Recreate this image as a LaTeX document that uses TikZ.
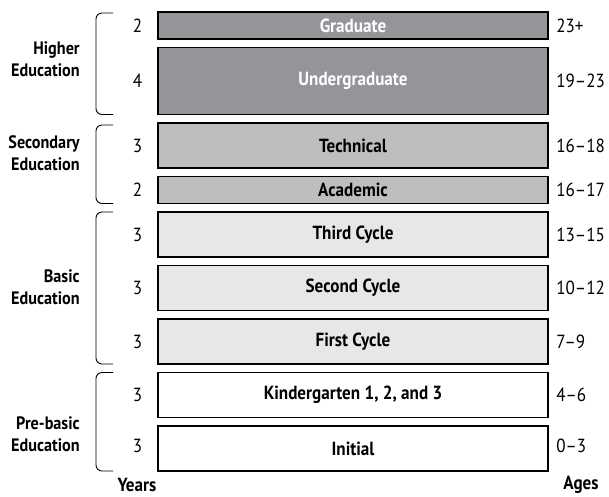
\documentclass[tikz,border=0pt]{standalone}
\usepackage{fontspec}
\setmainfont{PT Sans}[FakeStretch=0.9]
\usetikzlibrary{positioning}

\definecolor{higher}{HTML}{939598}
\definecolor{secondary}{HTML}{BCBEC0}
\definecolor{basic}{HTML}{E6E7E8}

\tikzset{
  level/.style={draw, line width=1.3pt, rectangle, minimum width=390pt, inner sep=0pt, font=\fontsize{19}{22}\selectfont\bfseries},
  years/.style={font=\fontsize{19}{22}\selectfont},
  ages/.style={font=\fontsize{19}{22}\selectfont, anchor=west},
  group/.style={font=\fontsize{18}{22}\selectfont\bfseries, align=right, anchor=east},
  brace/.style={line width=0.9pt, rounded corners=6pt},
}

\begin{document}
\begin{tikzpicture}[x=1pt, y=-1pt, node distance=8.5pt, outer sep=0pt]
    \useasboundingbox (0,0) rectangle (609,496);

    % stages, top to bottom
    \node [level, fill=higher, text=white, minimum height=27pt, anchor=north west] (grad) at (158,12) {Graduate};
    \node [level, fill=higher, text=white, minimum height=67pt, below=of grad] (undergrad) {Undergraduate};
    \node [level, fill=secondary, minimum height=45pt, below=of undergrad] (tech) {Technical};
    \node [level, fill=secondary, minimum height=27pt, below=of tech] (acad) {Academic};
    \node [level, fill=basic, minimum height=45pt, below=of acad] (third) {Third Cycle};
    \node [level, fill=basic, minimum height=45pt, below=of third] (second) {Second Cycle};
    \node [level, fill=basic, minimum height=45pt, below=of second] (first) {First Cycle};
    \node [level, fill=white, minimum height=45pt, below=of first] (kinder) {Kindergarten 1, 2, and 3};
    \node [level, fill=white, minimum height=45pt, below=of kinder] (initial) {Initial};

    % years
    \node [years] (ygrad) at ([xshift=-20.5pt]grad.west) {2};
    \node [years] (yundergrad) at ([xshift=-20.5pt]undergrad.west) {4};
    \node [years] (ytech) at ([xshift=-20.5pt]tech.west) {3};
    \node [years] (yacad) at ([xshift=-20.5pt]acad.west) {2};
    \node [years] (ythird) at ([xshift=-20.5pt]third.west) {3};
    \node [years] (ysecond) at ([xshift=-20.5pt]second.west) {3};
    \node [years] (yfirst) at ([xshift=-20.5pt]first.west) {3};
    \node [years] (ykinder) at ([xshift=-20.5pt]kinder.west) {3};
    \node [years] (yinitial) at ([xshift=-20.5pt,yshift=3pt]initial.west) {3};

    % ages
    \node [ages] (agrad) at ([xshift=5pt]grad.east) {23+};
    \node [ages] (aundergrad) at ([xshift=5pt]undergrad.east) {19--23};
    \node [ages] (atech) at ([xshift=5pt]tech.east) {16--18};
    \node [ages] (aacad) at ([xshift=5pt]acad.east) {16--17};
    \node [ages] (athird) at ([xshift=5pt]third.east) {13--15};
    \node [ages] (asecond) at ([xshift=5pt]second.east) {10--12};
    \node [ages] (afirst) at ([xshift=5pt]first.east) {7--9};
    \node [ages] (akinder) at ([xshift=5pt]kinder.east) {4--6};
    \node [ages] (ainitial) at ([xshift=5pt,yshift=3pt]initial.east) {0--3};

    % braces
    \draw [brace] ([xshift=-45pt,yshift=-1pt]grad.north west) -- ++(-17,0) |- ([xshift=-45pt]undergrad.south west);
    \draw [brace] ([xshift=-45pt,yshift=-2pt]tech.north west) -- ++(-17,0) |- ([xshift=-45pt]acad.south west);
    \draw [brace] ([xshift=-45pt]third.north west) -- ++(-17,0) |- ([xshift=-45pt]first.south west);
    \draw [brace] ([xshift=-45pt]kinder.north west) -- ++(-17,0) |- ([xshift=-45pt]initial.south west);

    % groups
    \node [group] (higher) at (83,59) {Higher\\Education};
    \node [group] (secondary) at (83,153) {Secondary\\Education};
    \node [group] (basicgrp) at (83,287) {Basic\\Education};
    \node [group] (prebasic) at (83,434) {Pre-basic\\Education};

    % axis labels
    \node [font=\fontsize{19}{22}\selectfont\bfseries] (yearslbl) at (137,484.5) {Years};
    \node [font=\fontsize{19}{22}\selectfont\bfseries] (ageslbl) at (581,484.5) {Ages};
\end{tikzpicture}
\end{document}
